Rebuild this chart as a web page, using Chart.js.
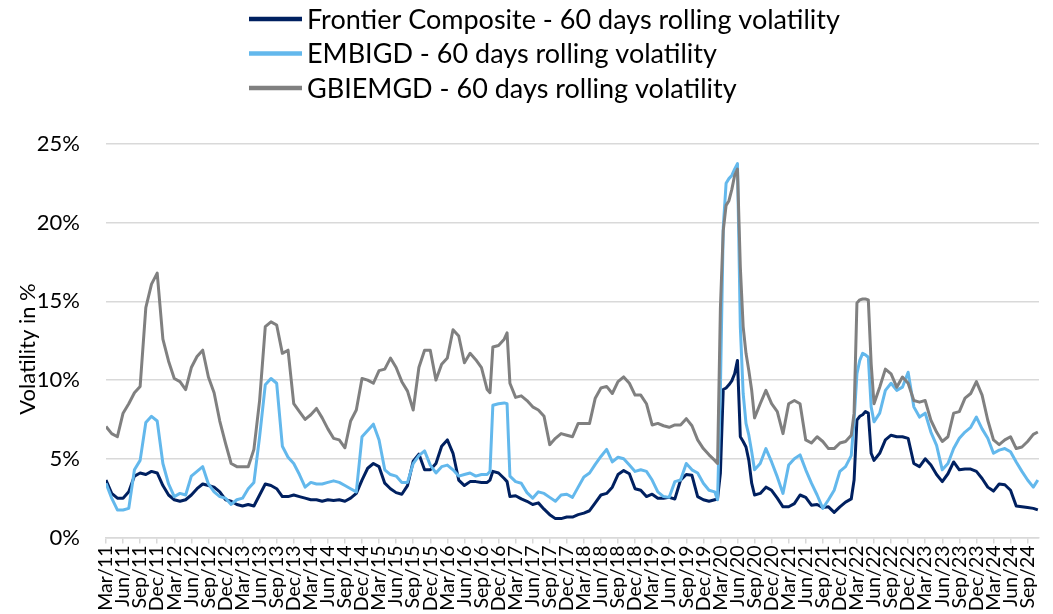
<!DOCTYPE html>
<html>
<head>
<meta charset="utf-8">
<script src="https://cdn.jsdelivr.net/npm/chart.js@4.4.1/dist/chart.umd.min.js"></script>
<style>
  html, body { margin: 0; padding: 0; background: #ffffff; overflow: hidden; }
  canvas { display: block; }
</style>
</head>
<body>
<canvas id="c" width="1053" height="614"></canvas>
<script>
// months since March 2011 (0 = Mar/11)
const months = [
  0,1,2,3,4,5,6,7,8,9,10,11,12,13,14,15,16,17,18,19,20,21,22,23,24,25,26,27,28,29,30,31,32,33,34,35,36,37,38,39,
  40,41,42,43,44,45,46,47,48,49,50,51,52,53,54,55,56,57,58,59,60,61,62,63,64,65,66,67,67.5,68,69,70,70.5,71,72,73,74,75,76,77,78,79,
  80,81,82,83,84,85,86,87,88,89,90,91,92,93,94,95,96,97,98,99,100,101,102,103,104,105,106,107,107.5,
  108,108.5,109,109.5,110,110.5,111,111.5,112,112.5,113,113.5,114,115,116,117,118,119,
  120,121,122,123,124,125,126,127,128,129,130,131,131.5,132,132.5,133,133.5,134,134.5,135,136,137,138,139,
  140,141,142,143,144,145,146,147,148,149,150,151,152,153,154,155,156,157,158,159,160,161,162,163,163.8
];

const frontier = [
  3.65,2.8,2.5,2.5,2.9,3.9,4.1,4.0,4.2,4.1,3.3,2.7,2.4,2.3,2.4,2.7,3.1,3.4,3.3,3.2,2.9,2.4,2.3,2.1,2.0,2.1,2.0,2.7,3.4,3.3,3.1,2.6,2.6,2.7,2.6,2.5,2.4,2.4,2.3,2.4,
  2.35,2.4,2.3,2.5,2.8,3.65,4.4,4.7,4.5,3.45,3.1,2.85,2.75,3.3,4.85,5.3,4.3,4.3,4.7,5.8,6.2,5.35,3.65,3.3,3.55,3.55,3.5,3.5,3.65,4.2,4.1,3.75,3.55,2.6,2.65,2.45,2.3,2.1,2.2,1.8,1.45,1.2,
  1.2,1.3,1.3,1.45,1.55,1.7,2.2,2.7,2.8,3.2,4.0,4.25,4.05,3.1,3.0,2.6,2.75,2.5,2.5,2.55,2.45,3.65,4.0,3.95,2.6,2.4,2.3,2.4,2.45,
  4.1,9.4,9.5,9.7,9.95,10.4,11.25,6.4,6.1,5.75,4.9,3.45,2.7,2.8,3.2,3.0,2.5,1.95,
  1.95,2.15,2.7,2.55,2.05,2.1,1.9,1.95,1.6,1.95,2.25,2.45,3.65,7.45,7.7,7.8,8.0,7.9,5.35,4.9,5.35,6.2,6.5,6.4,
  6.4,6.3,4.7,4.5,5.0,4.6,4.0,3.55,4.05,4.8,4.3,4.35,4.35,4.2,3.75,3.2,2.95,3.4,3.35,3.0,2.0,1.95,1.9,1.85,1.75
];

const embigd = [
  3.45,2.5,1.75,1.75,1.85,4.3,4.9,7.3,7.7,7.4,4.7,3.4,2.6,2.8,2.7,3.9,4.2,4.5,3.4,2.9,2.6,2.5,2.1,2.4,2.5,3.1,3.5,6.4,9.7,10.1,9.8,5.8,5.1,4.7,4.0,3.2,3.5,3.4,3.4,3.5,
  3.6,3.5,3.3,3.1,2.9,6.4,6.8,7.2,6.2,4.3,4.0,3.9,3.5,3.5,4.7,5.2,5.5,4.6,4.1,4.5,4.6,4.3,3.9,4.0,4.1,3.9,4.0,4.0,4.2,8.4,8.5,8.55,8.5,3.9,3.55,3.45,2.85,2.5,2.9,2.8,2.55,2.3,
  2.7,2.75,2.55,3.2,3.85,4.1,4.65,5.15,5.6,4.8,5.1,5.0,4.6,4.2,4.3,4.2,3.65,2.9,2.6,2.55,3.55,3.65,4.7,4.3,4.1,3.45,3.0,2.9,2.4,
  9.4,19.7,22.5,22.8,23.0,23.4,23.75,13.4,9.15,7.25,6.5,5.45,4.3,4.7,5.65,4.8,3.85,2.8,
  4.6,5.0,5.25,4.3,3.45,2.7,1.85,2.4,3.0,4.2,4.5,5.2,7.45,10.4,11.25,11.7,11.6,11.45,8.3,7.35,7.9,9.35,9.8,9.35,
  9.55,10.5,8.3,7.65,7.9,6.7,5.85,4.3,4.7,5.65,6.3,6.7,7.0,7.65,6.9,6.3,5.35,5.55,5.65,5.45,4.8,4.2,3.65,3.2,3.65
];

const gbiemgd = [
  7.05,6.6,6.4,7.9,8.5,9.2,9.6,14.6,16.1,16.8,12.6,11.2,10.1,9.9,9.4,10.8,11.5,11.9,10.2,9.2,7.4,6.0,4.7,4.5,4.5,4.5,5.6,8.7,13.4,13.7,13.5,11.7,11.9,8.5,8.0,7.5,7.8,8.2,7.6,6.9,
  6.3,6.2,5.7,7.4,8.1,10.1,10.0,9.8,10.6,10.7,11.4,10.8,9.9,9.3,8.1,10.8,11.9,11.9,10.0,11.0,11.4,13.2,12.8,11.1,11.7,11.3,10.8,9.4,9.2,12.1,12.2,12.6,13.0,9.8,8.9,9.0,8.7,8.3,8.1,7.7,5.9,6.3,
  6.6,6.5,6.4,7.25,7.25,7.25,8.85,9.5,9.6,9.15,9.9,10.2,9.8,9.05,9.05,8.5,7.15,7.25,7.1,7.0,7.15,7.15,7.55,7.1,6.2,5.65,5.25,4.9,4.7,
  14.6,19.5,21.1,21.4,22.1,23.0,23.4,17.2,13.4,11.7,10.6,9.35,7.6,8.5,9.35,8.5,8.0,6.6,
  8.5,8.7,8.5,6.2,6.0,6.4,6.1,5.65,5.65,6.0,6.1,6.5,7.9,14.9,15.1,15.15,15.15,15.1,11.05,8.5,9.55,10.7,10.4,9.55,
  10.2,9.8,8.7,8.6,8.7,7.45,6.7,6.1,6.4,7.9,8.0,8.85,9.15,9.9,9.05,7.45,6.2,5.9,6.2,6.4,5.65,5.75,6.1,6.55,6.7
];

const tickLabels = [
  'Mar/11','Jun/11','Sep/11','Dec/11','Mar/12','Jun/12','Sep/12','Dec/12','Mar/13','Jun/13','Sep/13','Dec/13',
  'Mar/14','Jun/14','Sep/14','Dec/14','Mar/15','Jun/15','Sep/15','Dec/15','Mar/16','Jun/16','Sep/16','Dec/16',
  'Mar/17','Jun/17','Sep/17','Dec/17','Mar/18','Jun/18','Sep/18','Dec/18','Mar/19','Jun/19','Sep/19','Dec/19',
  'Mar/20','Jun/20','Sep/20','Dec/20','Mar/21','Jun/21','Sep/21','Dec/21','Mar/22','Jun/22','Sep/22','Dec/22',
  'Mar/23','Jun/23','Sep/23','Dec/23','Mar/24','Jun/24','Sep/24'
];

const seriesNames = [
  'Frontier Composite - 60 days rolling volatility',
  'EMBIGD - 60 days rolling volatility',
  'GBIEMGD - 60 days rolling volatility'
];
const yTitle = 'Volatility in %';

const colors = ['#002060', '#63B8EC', '#808080'];
const FONT = 'Lato';

function pts(vals) { return vals.map((v, i) => ({ x: months[i], y: v })); }

const legendPlugin = {
  id: 'customLegend',
  afterDraw(chart) {
    const ctx = chart.ctx;
    ctx.save();
    const rowY = [19, 53.5, 88];
    chart.data.datasets.forEach((ds, i) => {
      ctx.strokeStyle = ds.borderColor;
      ctx.lineWidth = 4.5;
      ctx.lineCap = 'butt';
      ctx.beginPath();
      ctx.moveTo(249, rowY[i]);
      ctx.lineTo(302, rowY[i]);
      ctx.stroke();
      ctx.fillStyle = '#000';
      ctx.font = '27px ' + FONT;
      ctx.textBaseline = 'middle';
      ctx.textAlign = 'left';
      ctx.fillText(ds.label, 307, rowY[i] + 1);
    });
    // y axis title
    ctx.translate(28, 349);
    ctx.rotate(-Math.PI / 2);
    ctx.textAlign = 'center';
    ctx.textBaseline = 'middle';
    ctx.font = '22px ' + FONT;
    ctx.fillStyle = '#000';
    ctx.fillText(yTitle, 0, 0);
    ctx.restore();
  }
};

new Chart(document.getElementById('c'), {
  type: 'line',
  data: {
    datasets: [
      { label: seriesNames[0], data: pts(frontier), borderColor: colors[0], order: 2 },
      { label: seriesNames[1], data: pts(embigd), borderColor: colors[1], order: 1 },
      { label: seriesNames[2], data: pts(gbiemgd), borderColor: colors[2], order: 0 }
    ].map(d => Object.assign(d, { borderWidth: 3, pointRadius: 0, tension: 0, fill: false, borderJoinStyle: 'round' }))
  },
  options: {
    responsive: false,
    animation: false,
    layout: { padding: { top: 144, left: 0, right: 0, bottom: 0 } },
    plugins: { legend: { display: false }, tooltip: { enabled: false } },
    scales: {
      x: {
        type: 'linear', min: 0, max: 164,
        ticks: {
          stepSize: 3, autoSkip: false, includeBounds: false,
          minRotation: 90, maxRotation: 90,
          callback: (v) => tickLabels[Math.round(v / 3)] || '',
          font: { family: FONT, size: 19.5 }, color: '#000', padding: 2
        },
        grid: { drawOnChartArea: false, drawTicks: true, tickLength: 6, color: '#d9d9d9', lineWidth: 1.5 },
        border: { display: true, color: '#d9d9d9', width: 1.5 },
        afterFit(s) { s.height = 76.5; }
      },
      y: {
        min: 0, max: 25,
        ticks: { stepSize: 5, callback: (v) => v + '%', font: { family: FONT, size: 22 }, color: '#000', padding: 26 },
        grid: { drawTicks: false, color: '#d9d9d9', lineWidth: 1.5 },
        border: { display: false },
        afterFit(s) { s.width = 106; }
      }
    }
  },
  plugins: [legendPlugin]
});
</script>
</body>
</html>
